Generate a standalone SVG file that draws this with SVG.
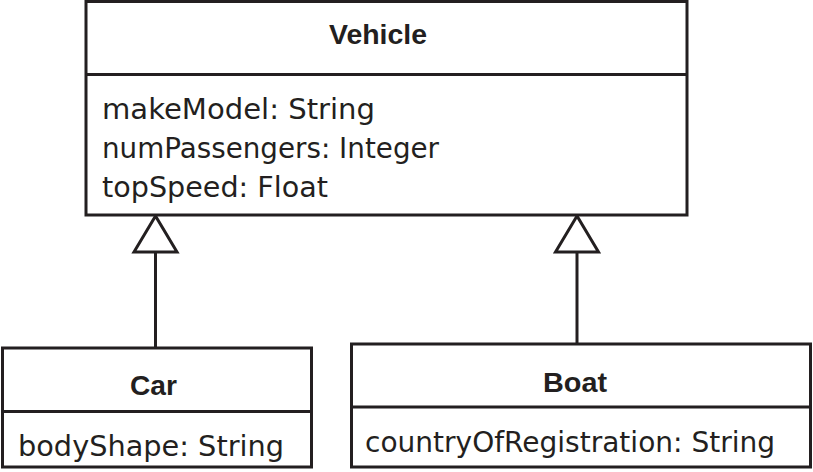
<svg xmlns="http://www.w3.org/2000/svg" width="813" height="472" viewBox="0 0 813 472">
<style>
.box{fill:#fff;stroke:#231f20;stroke-width:3}
.ln{stroke:#231f20;stroke-width:3;fill:none}
.tri{fill:#fff;stroke:#231f20;stroke-width:3;stroke-linejoin:miter}
.t{font-family:"DejaVu Sans","Liberation Sans",sans-serif;font-size:28px;fill:#231f20}
.b{font-family:"Liberation Sans",Arial,sans-serif;font-size:28px;font-weight:bold;fill:#231f20}
</style>
<rect width="813" height="472" fill="#fff"/>
<g id="connectors">
<line class="ln" x1="155.5" y1="251" x2="155.5" y2="347"/>
<polygon class="tri" points="155.5,216 134,252 177,252"/>
<line class="ln" x1="577" y1="251" x2="577" y2="344"/>
<polygon class="tri" points="577,216 555.5,252 598.5,252"/>
</g>
<g id="vehicle">
<rect class="box" x="86" y="1.5" width="601" height="213.5"/>
<line class="ln" x1="86" y1="74.5" x2="687" y2="74.5"/>
<text class="b" x="329" y="44" textLength="98" lengthAdjust="spacingAndGlyphs">Vehicle</text>
<text class="t" x="102" y="119" textLength="273" lengthAdjust="spacingAndGlyphs">makeModel: String</text>
<text class="t" x="102" y="158" textLength="337" lengthAdjust="spacingAndGlyphs">numPassengers: Integer</text>
<text class="t" x="102" y="197" textLength="226" lengthAdjust="spacingAndGlyphs">topSpeed: Float</text>
</g>
<g id="car">
<rect class="box" x="2.5" y="348" width="309" height="119"/>
<line class="ln" x1="2.5" y1="411.5" x2="311.5" y2="411.5"/>
<text class="b" x="130" y="395" textLength="47" lengthAdjust="spacingAndGlyphs">Car</text>
<text class="t" x="18" y="456" textLength="266" lengthAdjust="spacingAndGlyphs">bodyShape: String</text>
</g>
<g id="boat">
<rect class="box" x="351.5" y="344" width="459" height="123"/>
<line class="ln" x1="351.5" y1="407" x2="810.5" y2="407"/>
<text class="b" x="543" y="392" textLength="64" lengthAdjust="spacingAndGlyphs">Boat</text>
<text class="t" x="365" y="452" textLength="410" lengthAdjust="spacingAndGlyphs">countryOfRegistration: String</text>
</g>
</svg>
